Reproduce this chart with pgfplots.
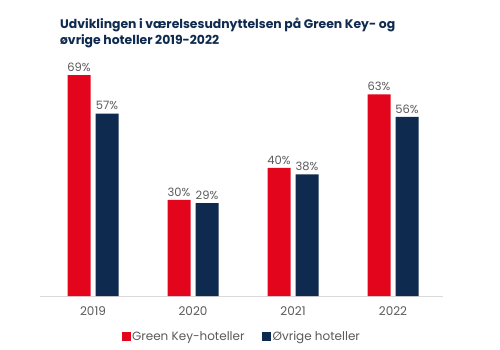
\documentclass[border=0pt]{standalone}
\usepackage{pgfplots}
\pgfplotsset{compat=1.18}
\usepackage{fontspec}
\setmainfont{Poppins}
\definecolor{gkred}{HTML}{E3051B}
\definecolor{navy}{HTML}{0E2A4F}
\definecolor{lblgray}{HTML}{5A5A5A}
\definecolor{axgray}{HTML}{DADADA}
\begin{document}
\begin{tikzpicture}
\useasboundingbox (0,0) rectangle (500bp,350bp);
\node[anchor=north west, align=left, font=\fontsize{12.4bp}{16bp}\selectfont\bfseries, text=navy, inner sep=0pt] at (60bp,332bp) {Udviklingen i værelsesudnyttelsen på Green Key- og\\øvrige hoteller 2019-2022};
\begin{axis}[
  at={(40bp,54bp)}, anchor=south west,
  scale only axis, width=403bp, height=256bp,
  xmin=-0.53, xmax=3.5, ymin=0, ymax=80,
  ybar, bar width=23bp,
  axis y line=none,
  axis x line*=bottom,
  x axis line style={axgray, line width=1pt, -},
  xtick={0,1,2,3}, xticklabels={2019,2020,2021,2022},
  xtick style={draw=none},
  ticklabel style={text=lblgray, font=\fontsize{12bp}{14bp}\selectfont},
  xticklabel style={yshift=-3bp},
  /pgf/number format/assume math mode=true,
  nodes near coords={\pgfmathprintnumber{\pgfplotspointmeta}\%},
  every node near coord/.append style={text=lblgray, font=\fontsize{11.5bp}{13bp}\selectfont, yshift=0bp},
  legend columns=2,
  legend style={draw=none, at={(0.5,-0.16)}, anchor=center, font=\fontsize{12bp}{14bp}\selectfont, text=lblgray, /tikz/every even column/.append style={column sep=16bp}, nodes={inner xsep=1.5bp}},
  legend image code/.code={\fill[#1] (0bp,-4.5bp) rectangle (9bp,4.5bp);},
  clip=false,
]
\addplot[fill=gkred, draw=none, bar shift=-14bp] coordinates {(0,69) (1,30) (2,40) (3,63)};
\addplot[fill=navy, draw=none, bar shift=14bp] coordinates {(0,57) (1,29) (2,38) (3,56)};
\legend{Green Key-hoteller, Øvrige hoteller}
\end{axis}
\end{tikzpicture}
\end{document}
